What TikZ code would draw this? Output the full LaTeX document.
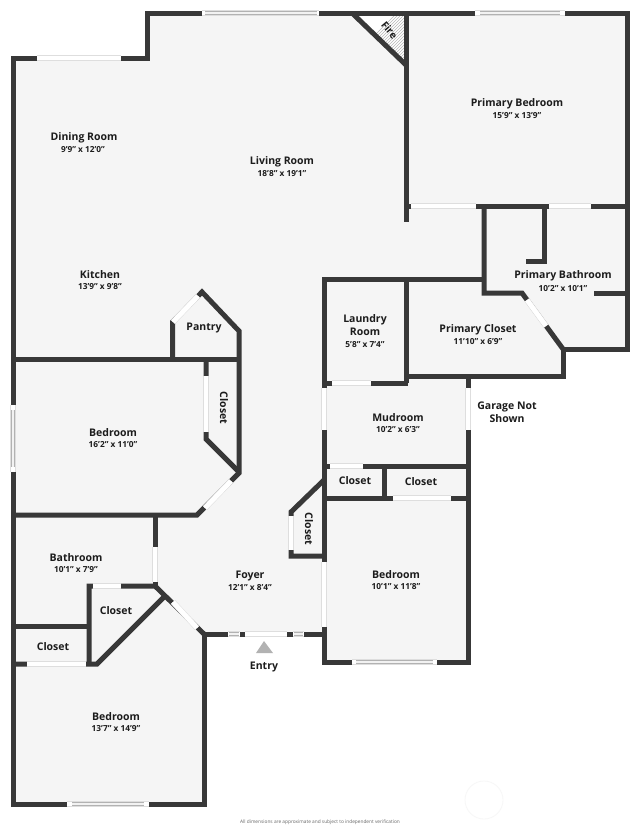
\documentclass[tikz,border=0pt]{standalone}
\usepackage{fontspec}
\setmainfont{Open Sans}
\definecolor{wallc}{HTML}{383838}
\definecolor{floorc}{HTML}{F5F5F5}
\definecolor{inkc}{HTML}{1C1C1C}
\tikzset{
  wall/.style={draw=wallc,line width=5pt,line cap=butt,line join=miter,miter limit=10},
  win/.style={draw=black!13,line width=0.5pt,double=white,double distance=4.8pt,line cap=butt},
  glass/.style={draw=black!30,line width=0.6pt,double=black!5,double distance=2.2pt,line cap=butt},
  room/.style={font=\bfseries\fontsize{10.5}{12}\selectfont,text=inkc,inner sep=0pt,align=center,yshift=-1pt},
  dims/.style={font=\bfseries\fontsize{8.3}{9}\selectfont,text=inkc,inner sep=0pt,align=center,yshift=-1pt},
}
\begin{document}
\begin{tikzpicture}[x=1pt,y=-1pt]
\useasboundingbox (0,0) rectangle (640,827);
\fill[white] (0,0) rectangle (640,827);
% floor
\fill[floorc] (13,58) -- (147,58) -- (147,13) -- (627,13) -- (627,349) -- (563,349) -- (563,376) -- (468,376) -- (468,662) -- (324,662) -- (324,634) -- (204,634) -- (204,804) -- (13,804) -- cycle;
% hearth hatch
\fill[white] (352,13) -- (406,13) -- (406,65) -- cycle;
\begin{scope}
\clip (352,13) -- (406,13) -- (406,65) -- cycle;
\foreach \k in {0,3,...,110}{
  \draw[black!28,line width=0.6pt] (340+\k,70) -- (340+\k+60,10);
}
\end{scope}
% outer walls
\draw[wall] (13,58) -- (147,58) -- (147,13) -- (627,13) -- (627,349) -- (563,349) -- (563,376) -- (468,376) -- (468,662) -- (324,662) -- (324,634) -- (204,634) -- (204,804) -- (13,804) -- cycle;
% primary suite
\draw[wall] (352,13) -- (406,65);
\draw[wall] (406,13) -- (406,222);
\draw[wall] (406,206) -- (627,206);
\draw[wall] (484,206) -- (484,293) -- (522,293) -- (563,349);
\draw[wall] (544,206) -- (544,261) -- (526,261);
\draw[wall] (594,293) -- (627,293);
% laundry, closets, mudroom
\draw[wall] (484,279) -- (324,279) -- (324,634);
\draw[wall] (406,279) -- (406,383);
\draw[wall] (324,383) -- (408,383);
\draw[wall] (406,376) -- (563,376);
\draw[wall] (324,466) -- (468,466);
\draw[wall] (384,466) -- (384,498);
\draw[wall] (324,498) -- (468,498);
\draw[wall] (324,480) -- (291,512) -- (291,556) -- (324,556);
% kitchen, pantry, bedroom
\draw[wall] (13,359) -- (239,359);
\draw[wall] (172.5,359) -- (172.5,322) -- (202,292) -- (239,331) -- (239,473) -- (197,515) -- (13,515);
\draw[wall] (206,359) -- (206,439) -- (239,472);
% bathroom, closets, south bedroom
\draw[wall] (155,515) -- (155,586);
\draw[wall] (89,665) -- (89,586) -- (155,586) -- (204,634);
\draw[wall] (13,626) -- (89,626);
\draw[wall] (13,664) -- (97,664) -- (164,597);
% plain openings
\draw[win] (37,58) -- (121,58);
\draw[win] (411,206) -- (476,206);
\draw[win] (549,206) -- (591,206);
\draw[win] (527,300) -- (546,326);
\draw[win] (332,383) -- (371,383);
\draw[win] (324,388) -- (324,430);
\draw[win] (468,388) -- (468,430);
\draw[win] (330,466) -- (363,466);
\draw[win] (393,498) -- (451,498);
\draw[win] (291,516) -- (291,550);
\draw[win] (324,562) -- (324,627);
\draw[win] (245,634) -- (287,634);
\draw[win] (206,376) -- (206,432);
\draw[win] (198,296) -- (173,322);
\draw[win] (205,508) -- (231,481);
\draw[win] (155,547) -- (155,582);
\draw[win] (93,586) -- (121,586);
\draw[win] (27,664) -- (86,664);
\draw[win] (173,602) -- (197,628);
% glazed windows
\draw[win] (202,13) -- (319,13);  \draw[glass] (205,13) -- (317,13);
\draw[win] (475,13) -- (565,13);  \draw[glass] (480,13) -- (560,13);
\draw[win] (13,405) -- (13,472);  \draw[glass] (13,410) -- (13,467);
\draw[win] (67,804) -- (149,804); \draw[glass] (72,804) -- (144,804);
\draw[win] (352,662) -- (437,662);\draw[glass] (356,662) -- (433,662);
\draw[win] (228,634) -- (240,634);\draw[glass] (229,634) -- (239,634);
\draw[win] (293,634) -- (304,634);\draw[glass] (294,634) -- (303,634);
% entry marker
\fill[black!30] (264,641) -- (273,653) -- (256,653) -- cycle;
% faint stamp
\draw[black!3,line width=0.8pt] (484,800) circle (19);
% labels
\node[room] (dining) at (84,136.5) {Dining Room};
\node[dims] (diningd) at (83,148.5) {9'9" x 12'0"};
\node[room] (living) at (282,161) {Living Room};
\node[dims] (livingd) at (282,173) {18'8" x 19'1"};
\node[room] (kitchen) at (100,274) {Kitchen};
\node[dims] (kitchend) at (100,286) {13'9" x 9'8"};
\node[room] (pbed) at (517,103) {Primary Bedroom};
\node[dims] (pbedd) at (517,115) {15'9" x 13'9"};
\node[room] (pbath) at (563,275) {Primary Bathroom};
\node[dims] (pbathd) at (563,288) {10'2" x 10'1"};
\node[room] (laundry) at (365,324) {Laundry\\[1.5pt]Room};
\node[dims] (laundryd) at (365,344) {5'8" x 7'4"};
\node[room] (pclos) at (478,329) {Primary Closet};
\node[dims] (pclosd) at (478,341) {11'10" x 6'9"};
\node[room] (mud) at (398,417) {Mudroom};
\node[dims] (mudd) at (398,429) {10'2" x 6'3"};
\node[room] (garage) at (507,411) {Garage Not\\[1.5pt]Shown};
\node[room] (pantry) at (204,327) {Pantry};
\node[room,rotate=-90] (clos1) at (224,407) {Closet};
\node[room] (bed1) at (113,432) {Bedroom};
\node[dims] (bed1d) at (113,444) {16'2" x 11'0"};
\node[room] (clos2) at (355,480) {Closet};
\node[room] (clos3) at (421,481) {Closet};
\node[room,rotate=-90] (clos4) at (309,528) {Closet};
\node[room] (bath) at (76,557) {Bathroom};
\node[dims] (bathd) at (76,569) {10'1" x 7'9"};
\node[room] (foyer) at (250,575) {Foyer};
\node[dims] (foyerd) at (250,587) {12'1" x 8'4"};
\node[room] (bed2) at (396,574) {Bedroom};
\node[dims] (bed2d) at (396,586) {10'1" x 11'8"};
\node[room] (clos5) at (116,610) {Closet};
\node[room] (clos6) at (53,646) {Closet};
\node[room] (bed3) at (116,716) {Bedroom};
\node[dims] (bed3d) at (116,728) {13'7" x 14'9"};
\node[room] (entry) at (264,666) {Entry};
\node[room,rotate=-50,font=\bfseries\fontsize{10}{11}\selectfont] (fire) at (389.5,29) {Fire};
\node[inner sep=0pt,text=black!60,font=\fontsize{4.8}{5}\selectfont] (note) at (320,822) {All dimensions are approximate and subject to independent verification};
\end{tikzpicture}
\end{document}
